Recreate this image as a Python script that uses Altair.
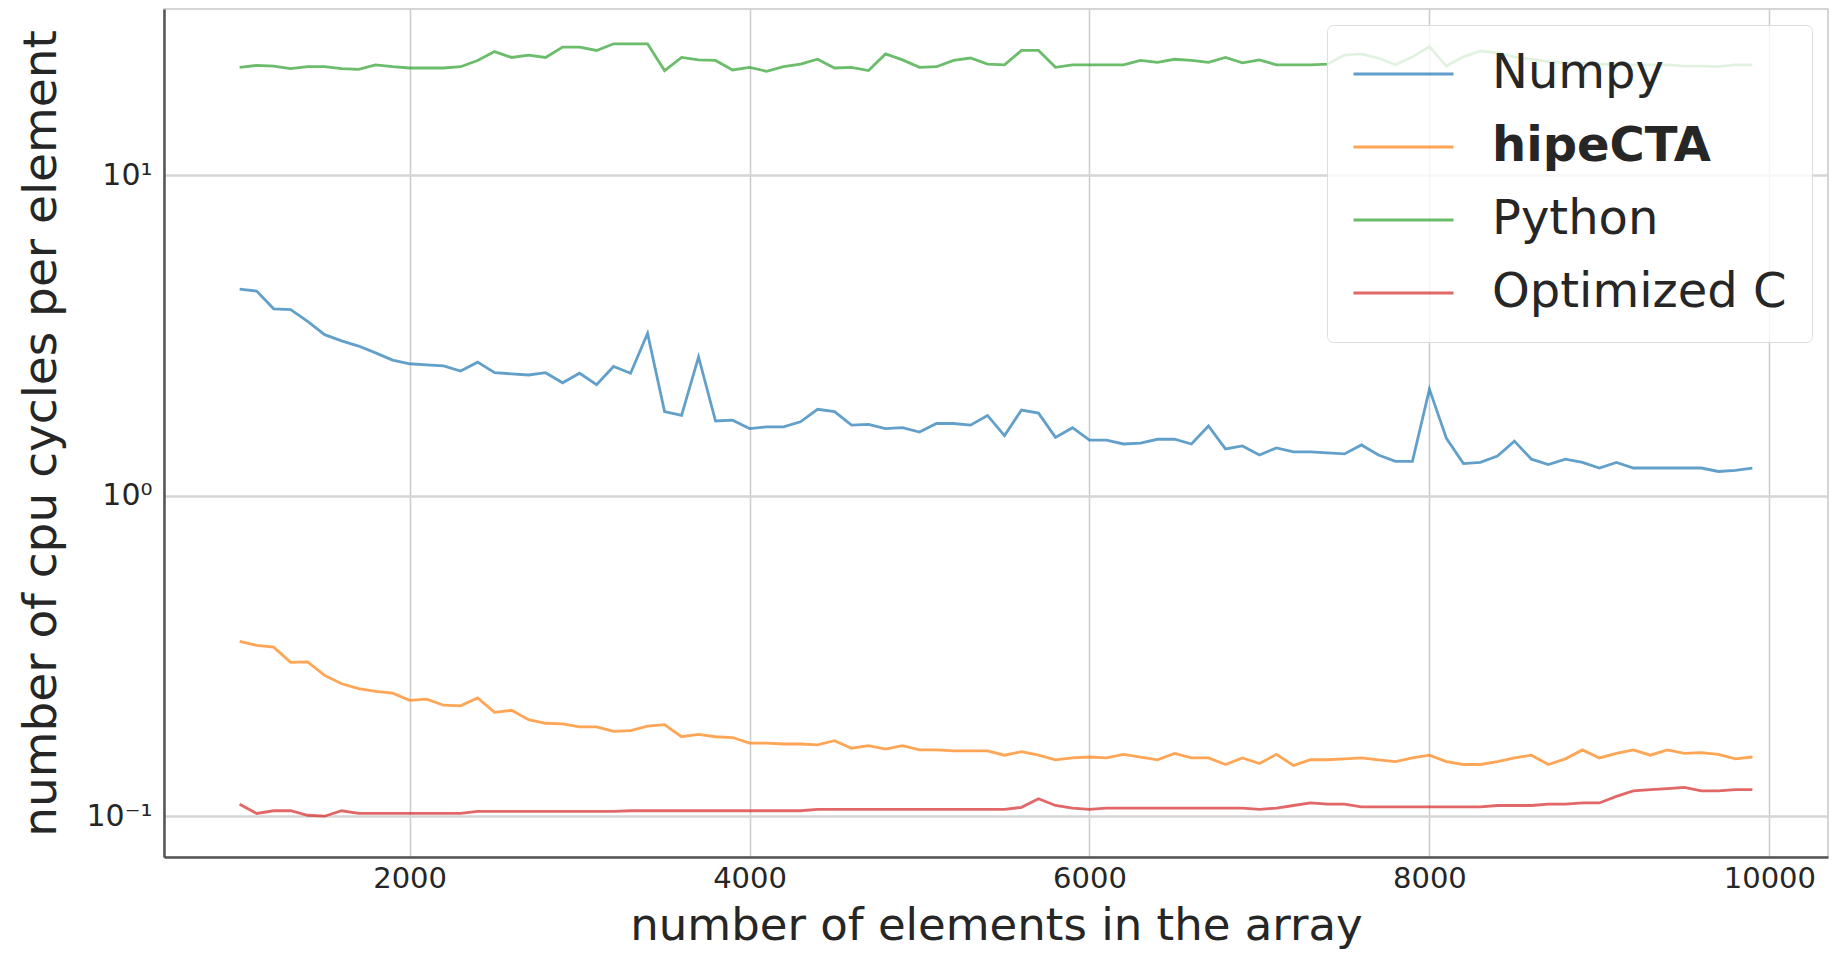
import altair as alt
import pandas as pd

# x positions: array sizes from 1000 to 9900 in steps of 100
sizes = list(range(1000, 10000, 100))

series_names = ["Numpy", "hipeCTA", "Python", "Optimized C"]
series_colors = ["#1f77b4", "#ff7f0e", "#2ca02c", "#d62728"]

numpy_vals = [
    4.41, 4.35, 3.83, 3.81, 3.50, 3.18, 3.04, 2.93, 2.79, 2.65,
    2.58, 2.56, 2.54, 2.45, 2.61, 2.42, 2.40, 2.38, 2.42, 2.25,
    2.41, 2.22, 2.53, 2.41, 3.21, 1.83, 1.78, 2.71, 1.71, 1.72,
    1.62, 1.64, 1.64, 1.70, 1.86, 1.83, 1.66, 1.67, 1.62, 1.63,
    1.58, 1.68, 1.68, 1.66, 1.78, 1.54, 1.85, 1.81, 1.52, 1.63,
    1.49, 1.49, 1.45, 1.46, 1.50, 1.50, 1.45, 1.65, 1.40, 1.43,
    1.34, 1.41, 1.37, 1.37, 1.36, 1.35, 1.44, 1.34, 1.28, 1.28,
    2.15, 1.51, 1.26, 1.27, 1.33, 1.48, 1.30, 1.25, 1.30, 1.27,
    1.22, 1.27, 1.22, 1.22, 1.22, 1.22, 1.22, 1.19, 1.20, 1.22,
]

hipecta_vals = [
    0.351, 0.341, 0.337, 0.302, 0.303, 0.275, 0.259, 0.250, 0.245, 0.242,
    0.230, 0.232, 0.222, 0.221, 0.234, 0.211, 0.214, 0.200, 0.195, 0.194,
    0.190, 0.190, 0.184, 0.185, 0.191, 0.193, 0.177, 0.180, 0.177, 0.176,
    0.169, 0.169, 0.168, 0.168, 0.167, 0.172, 0.163, 0.166, 0.162, 0.166,
    0.161, 0.161, 0.160, 0.160, 0.160, 0.155, 0.159, 0.155, 0.150, 0.152,
    0.153, 0.152, 0.156, 0.153, 0.150, 0.157, 0.152, 0.152, 0.145, 0.152,
    0.146, 0.156, 0.144, 0.150, 0.150, 0.151, 0.152, 0.150, 0.148, 0.152,
    0.155, 0.148, 0.145, 0.145, 0.148, 0.152, 0.155, 0.145, 0.151, 0.161,
    0.152, 0.157, 0.161, 0.155, 0.161, 0.157, 0.158, 0.156, 0.151, 0.153,
]

python_vals = [
    21.7, 22.0, 21.9, 21.5, 21.8, 21.8, 21.5, 21.4, 22.1, 21.8,
    21.6, 21.6, 21.6, 21.8, 22.8, 24.3, 23.3, 23.7, 23.3, 25.1,
    25.1, 24.5, 25.7, 25.7, 25.7, 21.2, 23.3, 22.9, 22.8, 21.3,
    21.7, 21.1, 21.8, 22.2, 23.0, 21.6, 21.7, 21.2, 23.9, 22.9,
    21.7, 21.8, 22.8, 23.2, 22.2, 22.1, 24.5, 24.5, 21.7, 22.1,
    22.1, 22.1, 22.1, 22.8, 22.5, 23.0, 22.8, 22.5, 23.3, 22.4,
    22.9, 22.1, 22.1, 22.1, 22.2, 23.7, 23.9, 23.2, 22.1, 23.4,
    25.2, 21.9, 23.4, 24.4, 24.1, 23.4, 23.0, 22.6, 22.4, 22.3,
    22.2, 22.1, 22.1, 22.1, 22.1, 21.9, 21.9, 21.8, 22.1, 22.1,
]

optc_vals = [
    0.109, 0.102, 0.104, 0.104, 0.1007, 0.100, 0.104, 0.102, 0.102, 0.102,
    0.102, 0.102, 0.102, 0.102, 0.1035, 0.1035, 0.1035, 0.1035, 0.1035, 0.1035,
    0.1035, 0.1035, 0.1035, 0.104, 0.104, 0.104, 0.104, 0.104, 0.104, 0.104,
    0.104, 0.104, 0.104, 0.104, 0.105, 0.105, 0.105, 0.105, 0.105, 0.105,
    0.105, 0.105, 0.105, 0.105, 0.105, 0.105, 0.1066, 0.1134, 0.108, 0.106,
    0.105, 0.106, 0.106, 0.106, 0.106, 0.106, 0.106, 0.106, 0.106, 0.106,
    0.105, 0.106, 0.108, 0.110, 0.109, 0.109, 0.107, 0.107, 0.107, 0.107,
    0.107, 0.107, 0.107, 0.107, 0.108, 0.108, 0.108, 0.109, 0.109, 0.110,
    0.110, 0.1153, 0.120, 0.121, 0.122, 0.123, 0.120, 0.120, 0.121, 0.121,
]

x_ticks = [2000, 4000, 6000, 8000, 10000]
y_ticks = [0.1, 1, 10]
y_tick_labels = ["10⁻¹", "10⁰", "10¹"]

rows = []
for name, vals in zip(series_names, [numpy_vals, hipecta_vals, python_vals, optc_vals]):
    for s, v in zip(sizes, vals):
        rows.append({"n": s, "cycles": v, "series": name})
df = pd.DataFrame(rows)

# build label expression from tick arrays
label_expr = "''"
for t, lab in zip(y_ticks, y_tick_labels):
    label_expr = f"(abs(datum.value - {t}) < {t} * 0.01) ? '{lab}' : ({label_expr})"

chart = (
    alt.Chart(df)
    .mark_line(strokeWidth=2.8, opacity=0.7, clip=True)
    .encode(
        x=alt.X(
            "n:Q",
            scale=alt.Scale(domain=[555, 10345], nice=False, zero=False),
            axis=alt.Axis(
                values=x_ticks,
                format="d",
                title="number of elements in the array",
                titleFontSize=45,
                titlePadding=10,
                labelFontSize=29,
                labelPadding=7,
                grid=True,
                gridColor="#cccccc",
                gridWidth=1.5,
            ),
        ),
        y=alt.Y(
            "cycles:Q",
            scale=alt.Scale(type="log", domain=[0.0746, 33], nice=False),
            axis=alt.Axis(
                values=y_ticks,
                labelExpr=label_expr,
                title="number of cpu cycles per element",
                titleFontSize=47,
                titlePadding=20,
                labelFontSize=30,
                labelPadding=12,
                grid=True,
                gridColor="#d6d6d6",
                gridWidth=2.5,
            ),
        ),
        color=alt.Color(
            "series:N",
            scale=alt.Scale(domain=series_names, range=series_colors),
            legend=alt.Legend(
                title=None,
                orient="top-right",
                offset=16,
                labelFontSize=48,
                labelFont="DejaVu Sans",
                labelColor="#262626",
                labelLimit=500,
                labelFontWeight={"expr": "datum.label == 'hipeCTA' ? 'bold' : 'normal'"},
                symbolType="stroke",
                symbolSize=10000,
                symbolStrokeWidth=3,
                symbolOpacity=0.7,
                clipHeight=48,
                rowPadding=25,
                labelOffset=37,
                padding=25,
                fillColor="rgba(255,255,255,0.8)",
                strokeColor="#dddddd",
                cornerRadius=6,
            ),
        ),
    )
    .properties(
        width=1664,
        height=848,
        autosize=alt.AutoSizeParams(type="none"),
        padding={"left": 156, "top": 1, "right": 2, "bottom": 96},
    )
    .configure_view(stroke="#c8c8c8", strokeWidth=1.5)
    .configure_axis(
        domainColor="#555555",
        domainWidth=2.5,
        ticks=False,
        labelFont="DejaVu Sans",
        labelColor="#262626",
        titleFont="DejaVu Sans",
        titleFontWeight="normal",
        titleColor="#262626",
    )
)

chart.save("out.html", embed_options={"renderer": "svg", "actions": False})
